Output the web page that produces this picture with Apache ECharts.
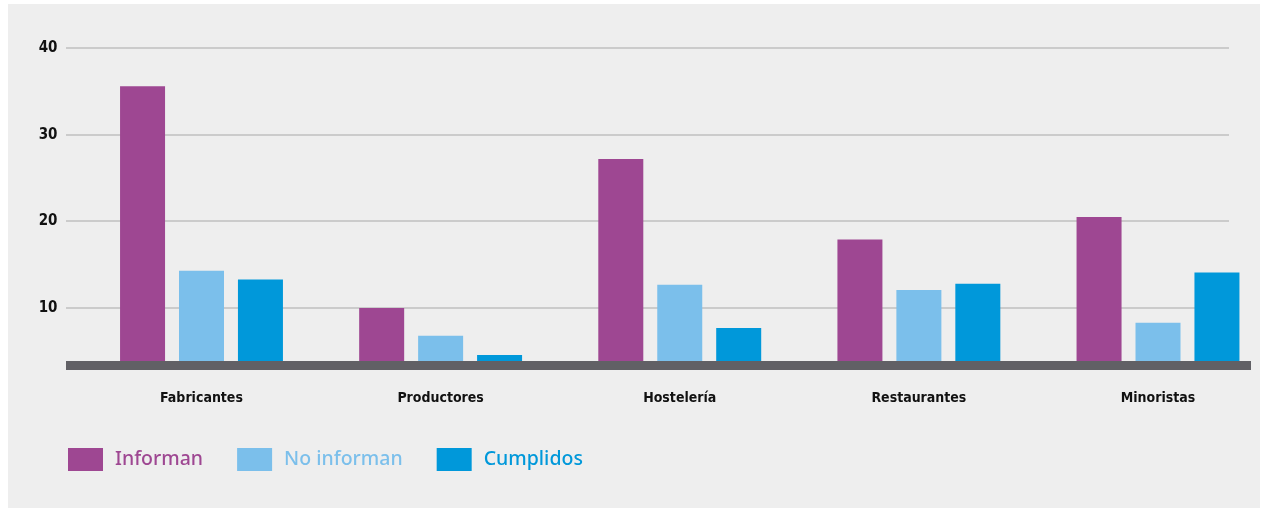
<!DOCTYPE html>
<html><head><meta charset="utf-8">
<script src="https://cdn.jsdelivr.net/npm/echarts@6/dist/echarts.min.js"></script>
<style>html,body{margin:0;padding:0;background:#fff}#c{width:1268px;height:509px}</style>
</head><body><div id="c"></div>
<script>
const categories = ['Fabricantes', 'Productores', 'Hostelería', 'Restaurantes', 'Minoristas'];
const seriesNames = ['Informan', 'No informan', 'Cumplidos'];
const informan = [35.6, 10.0, 27.2, 17.9, 20.5];
const noInforman = [14.3, 6.8, 12.7, 12.1, 8.3];
const cumplidos = [13.3, 4.6, 7.7, 12.8, 14.1];
const yTicks = [10, 20, 30, 40];
const yMin = 3.9, yMax = 40;

const colors = ['#9E4792', '#7BBFEB', '#0098DA'];
const labelFont = "'Liberation Sans Narrow', 'DejaVu Sans Condensed', sans-serif";

const chart = echarts.init(document.getElementById('c'), null, {renderer: 'canvas'});
const mk = (name, data, i) => ({
  name, type: 'bar', data, barWidth: 45, barGap: '31%',
  itemStyle: {color: colors[i]}, z: 3
});
chart.setOption({
  animation: false,
  backgroundColor: '#ffffff',
  color: colors,
  grid: {left: 201.5, right: 110, top: 48, bottom: 148},
  legend: {
    left: 68, top: 448, padding: 0, itemWidth: 35, itemHeight: 23, itemGap: 34,
    icon: 'rect',
    data: seriesNames.map((n, i) => ({name: n, textStyle: {color: colors[i]}})),
    textStyle: {fontFamily: "'Noto Sans', sans-serif", fontSize: 19.5, fontWeight: 500, padding: [0, 0, 0, 7]}
  },
  xAxis: {
    type: 'category', data: categories, boundaryGap: false,
    axisLine: {show: false}, axisTick: {show: false},
    axisLabel: {margin: 30, color: '#111', fontWeight: 'bold', fontSize: 14, fontFamily: labelFont}
  },
  yAxis: {
    type: 'value', min: yMin, max: yMax,
    splitLine: {show: false}, axisLine: {show: false}, axisTick: {show: false},
    axisLabel: {customValues: yTicks, margin: 144, color: '#111', fontWeight: 'bold', fontSize: 15, fontFamily: labelFont}
  },
  series: [mk(seriesNames[0], informan, 0), mk(seriesNames[1], noInforman, 1), mk(seriesNames[2], cumplidos, 2)]
});

const gy = v => chart.convertToPixel({yAxisIndex: 0}, v);
const graphics = [
  {type: 'rect', z: -10, silent: true, shape: {x: 8, y: 4, width: 1252, height: 504}, style: {fill: '#EEEEEE'}}
];
yTicks.forEach(v => {
  const y = Math.round(gy(v));
  graphics.push({type: 'rect', z: 0, silent: true, shape: {x: 66, y: y - 1, width: 1163, height: 2}, style: {fill: '#CBCBCB'}});
});
const yb = gy(yMin);
graphics.push({type: 'rect', z: 10, silent: true, shape: {x: 66, y: yb, width: 1185, height: 9}, style: {fill: '#616065'}});
chart.setOption({graphic: graphics});
</script>
</body></html>
